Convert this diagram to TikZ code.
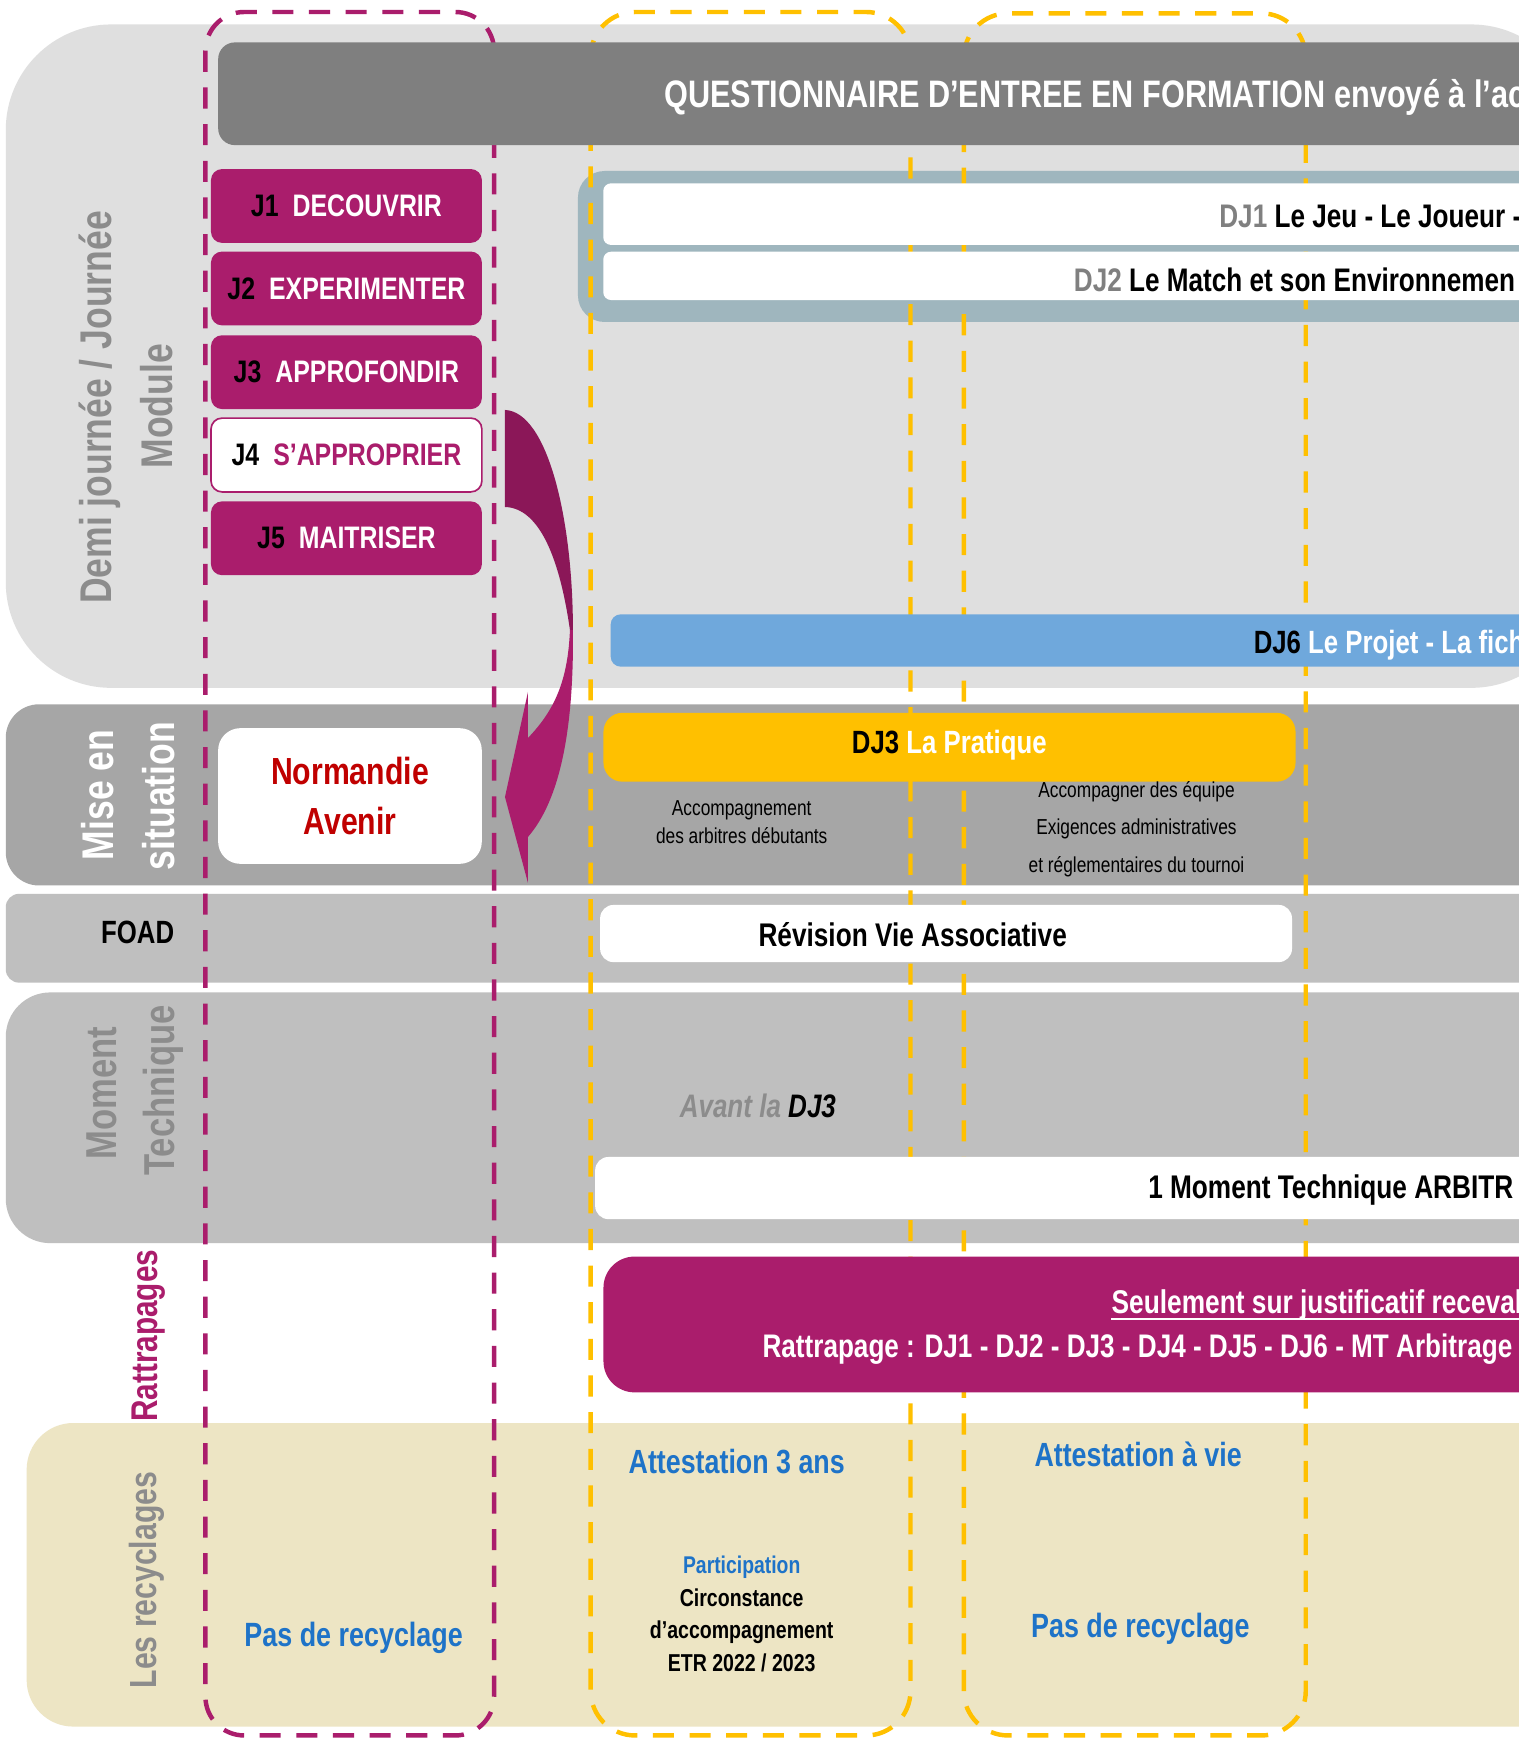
\documentclass[tikz,border=0pt]{standalone}
\usepackage{fontspec}
\setmainfont{Liberation Sans}[FakeStretch=0.8]
\usepackage{tikz}

\definecolor{bandlight}{RGB}{223,223,223}
\definecolor{banddark}{RGB}{166,166,166}
\definecolor{bandmid}{RGB}{191,191,191}
\definecolor{beige}{RGB}{237,229,196}
\definecolor{headgray}{RGB}{127,127,127}
\definecolor{prune}{RGB}{170,29,108}
\definecolor{prunedark}{RGB}{139,23,88}
\definecolor{frameblue}{RGB}{159,182,190}
\definecolor{barblue}{RGB}{111,168,220}
\definecolor{gold}{RGB}{255,192,0}
\definecolor{redtxt}{RGB}{192,0,0}
\definecolor{bluetxt}{RGB}{30,115,200}
\definecolor{graytxt}{RGB}{140,140,140}
\definecolor{djgray}{RGB}{128,128,128}

\newcommand{\fsz}[2]{\fontsize{#1}{#2}\selectfont}

\begin{document}
\begin{tikzpicture}[x=1pt,y=-1pt,
        every node/.style={inner sep=0pt},
        lab/.style={rotate=90,anchor=base,text=graytxt,font=\bfseries\fsz{40}{48}},
        txt/.style={anchor=base west,font=\bfseries\fsz{29}{35}},
        ctxt/.style={anchor=base,font=\bfseries\fsz{29}{35}},
        small/.style={anchor=base,font=\fsz{19.5}{24}},
        jbox/.style={fill=prune,rounded corners=10,minimum width=244,minimum height=66.5,font=\bfseries\fsz{28}{34}},
        dashbox/.style={line width=4,dash pattern=on 19 off 14,rounded corners=#1}]

    \useasboundingbox (0,0) rectangle (1368,1568);
    \clip (0,0) rectangle (1368,1568);
    \fill[white] (0,0) rectangle (1368,1568);

    % bandes
    \fill[bandlight,rounded corners=95] (5.2,22) rectangle (1420,619.5);
    \fill[banddark,rounded corners=30] (5.2,634.3) rectangle (1420,797.5);
    \fill[bandmid,rounded corners=12] (5.2,805) rectangle (1420,885);
    \fill[bandmid,rounded corners=40] (5.2,893.8) rectangle (1420,1119.6);
    \fill[beige,rounded corners=42] (24,1281.6) rectangle (1420,1555);
    \fill[frameblue,rounded corners=24] (520.5,154) rectangle (1420,290);

    % colonnes
    \draw[dashbox=35,prune] (185,10.8) rectangle (445,1563);
    \draw[dashbox=40,gold] (532,10.8) rectangle (820,1563);
    \draw[dashbox=40,gold] (868,12) rectangle (1176,1563);

    \fill[headgray,rounded corners=15] (196.5,38.2) rectangle (1420,130.7);
    \fill[white,rounded corners=7] (543.3,165.1) rectangle (1420,220.6);
    \fill[white,rounded corners=7] (543.3,226.7) rectangle (1420,270.2);
    \fill[barblue,rounded corners=9] (550,553.3) rectangle (1420,600.4);
    \fill[gold,rounded corners=17] (543.5,642) rectangle (1166.8,704);
    \fill[white,rounded corners=12] (540.5,815) rectangle (1163.6,866.5);
    \fill[white,rounded corners=12] (536,1042) rectangle (1420,1098);
    \fill[prune,rounded corners=28] (543.5,1131.7) rectangle (1420,1254);

    % fleche
    \fill[prunedark] (454.8,369.2) .. controls (493.5,371) and (516,468.3) .. (516,567.4)
        -- (513.3,567.4) .. controls (504.3,504.3) and (486.3,457.5) .. (454.8,456.6) -- cycle;
    \fill[prune] (516,567.4) .. controls (516.9,657.4) and (504.3,720.5) .. (475.5,753.8)
        -- (475.5,795.2) -- (454.8,717.8) -- (475.5,623.2) -- (475.5,664.6)
        .. controls (499.8,639.4) and (511.5,612.4) .. (513.3,567.4) -- cycle;

    \node[jbox] (j1) at (312,185.5) {J1\hspace{.45em}\textcolor{white}{DECOUVRIR}};
    \node[jbox] (j2) at (312,259.8) {J2\hspace{.45em}\textcolor{white}{EXPERIMENTER}};
    \node[jbox] (j3) at (312,335.2) {J3\hspace{.45em}\textcolor{white}{APPROFONDIR}};
    \node[jbox,fill=white,draw=prune,line width=1.5] (j4) at (312,409.8) {J4\hspace{.45em}\textcolor{prune}{S’APPROPRIER}};
    \node[jbox] (j5) at (312,484.8) {J5\hspace{.45em}\textcolor{white}{MAITRISER}};

    \node[fill=white,rounded corners=20,minimum width=237.5,minimum height=122.2,align=center,
        text=redtxt,font=\bfseries\fsz{34}{45.3}] (norm) at (315.2,716.9) {Normandie\\Avenir};

    \node[txt,text=white,font=\bfseries\fsz{34.5}{40}] (quest) at (598,96.5)
        {QUESTIONNAIRE D’ENTREE EN FORMATION envoyé à l’ac};
    \node[txt,font=\bfseries\fsz{29.4}{35}] (dj1) at (1098,204.5) {\textcolor{djgray}{DJ1} Le Jeu - Le Joueur -};
    \node[txt,font=\bfseries\fsz{29.4}{35}] (dj2) at (967,262.5) {\textcolor{djgray}{DJ2} Le Match et son Environnemen};
    \node[txt,text=white] (dj6) at (1129,589) {\textcolor{black}{DJ6} Le Projet - La fich};
    \node[ctxt] (dj3) at (855,679) {DJ3 \textcolor{white}{La Pratique}};

    \node[small] (acc1) at (668,734.6) {Accompagnement};
    \node[small] (acc2) at (668,760) {des arbitres débutants};
    \node[small] (equ1) at (1023.6,718.6) {Accompagner des équipe};
    \node[small] (equ2) at (1023.6,752) {Exigences administratives};
    \node[small] (equ3) at (1023.6,786) {et réglementaires du tournoi};

    \node[anchor=base east,font=\bfseries\fsz{29}{35}] (foad) at (157,850) {FOAD};
    \node[ctxt,font=\bfseries\fsz{29.5}{35}] (revi) at (822,852) {Révision Vie Associative};

    \node[txt,text=graytxt,font=\bfseries\itshape\fsz{29.3}{35}] (avant) at (612,1006.4)
        {Avant la \textcolor{black}{DJ3}};
    \node[txt,font=\bfseries\fsz{29.5}{35}] (mtech) at (1034,1079.5) {1 Moment Technique ARBITR};

    \node[txt,text=white,font=\bfseries\fsz{29.6}{35}] (seul) at (1001,1182.6) {Seulement sur justificatif receval};
    \draw[white,line width=2] ([yshift=-5pt]seul.base west) -- ([yshift=-5pt]seul.base east);
    \node[txt,text=white,font=\bfseries\fsz{29.4}{35}] (rattr) at (686.6,1223)
        {Rattrapage : DJ1 - DJ2 - DJ3 - DJ4 - DJ5 - DJ6 - MT Arbitrage};

    \node[txt,text=bluetxt,font=\bfseries\fsz{30.2}{36}] (att3) at (566,1327) {Attestation 3 ans};
    \node[ctxt,text=bluetxt,font=\bfseries\fsz{21.8}{26}] (part) at (668,1416.7) {Participation};
    \node[ctxt,font=\bfseries\fsz{22}{26}] (circ) at (668,1447) {Circonstance};
    \node[ctxt,font=\bfseries\fsz{22}{26}] (daccomp) at (668,1476) {d’accompagnement};
    \node[ctxt,font=\bfseries\fsz{22}{26}] (etr) at (668,1505.5) {ETR 2022 / 2023};
    \node[ctxt,text=bluetxt,font=\bfseries\fsz{30.3}{36}] (pas1) at (318.5,1483) {Pas de recyclage};
    \node[ctxt,text=bluetxt,font=\bfseries\fsz{30.2}{36}] (attvie) at (1025,1321) {Attestation à vie};
    \node[ctxt,text=bluetxt,font=\bfseries\fsz{30.3}{36}] (pas2) at (1027,1475) {Pas de recyclage};

    % titres des lignes
    \node[lab] (demi) at (100.4,367) {Demi journée / Journée};
    \node[lab] (module) at (155,366) {Module};
    \node[lab,text=white] (mise) at (102.6,716) {Mise en};
    \node[lab,text=white] (situ) at (157,717) {situation};
    \node[lab,font=\bfseries\fsz{39}{46}] (moment) at (104.6,984.5) {Moment};
    \node[lab,font=\bfseries\fsz{39}{46}] (techn) at (157,982) {Technique};
    \node[lab,text=prune,font=\bfseries\fsz{33.5}{40}] (rattl) at (141.8,1203) {Rattrapages};
    \node[lab,font=\bfseries\fsz{34}{40}] (recy) at (141,1423) {Les recyclages};
\end{tikzpicture}
\end{document}
